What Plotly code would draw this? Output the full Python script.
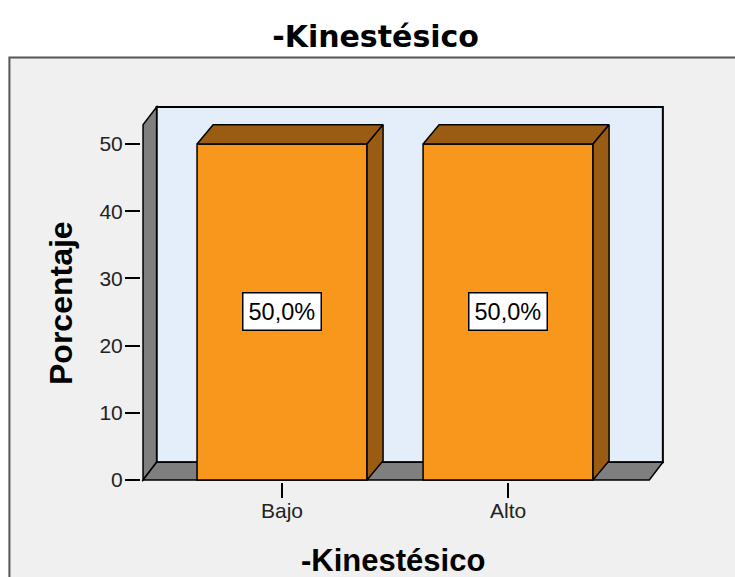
import plotly.graph_objects as go

# ---- data ----
categories = ["Bajo", "Alto"]
percentages = [50.0, 50.0]
y_ticks = [0, 10, 20, 30, 40, 50]
chart_title = "-Kinestésico"
x_title = "-Kinestésico"
y_title = "Porcentaje"

# ---- style / geometry (data units) ----
ORANGE = "#F7981D"
DARK = "#9A5C12"
WALL = "#7F7F7F"
BACK = "#E3EEFA"
FRAME = "#F0F0F0"

x_range = [-0.624, 1.690]
y_range = [-0.3, 55.8]
bar_w = 0.752
wdx, wdy = 0.06, 2.65      # wall depth
bdx, bdy = 0.071, 2.87     # bar depth
xl, xr_back = -0.615, 1.685
xl_back = xl + wdx
xr_front = xr_back - wdx
wall_top_back = 55.5
wall_top_front = wall_top_back - wdy

fig = go.Figure()

shapes = []
# outer frame (paper coordinates)
shapes.append(dict(type="rect", xref="paper", yref="paper", layer="below",
                   x0=-0.2516, x1=1.2, y0=-0.32, y1=1.126,
                   fillcolor=FRAME, line=dict(color="#555555", width=2)))
# back wall
shapes.append(dict(type="path", xref="x", yref="y", layer="below",
                   path=f"M{xl_back},{wdy} L{xr_back},{wdy} L{xr_back},{wall_top_back} L{xl_back},{wall_top_back} Z",
                   fillcolor=BACK, line=dict(color="black", width=2)))
# left side wall
shapes.append(dict(type="path", xref="x", yref="y", layer="below",
                   path=f"M{xl},0 L{xl_back},{wdy} L{xl_back},{wall_top_back} L{xl},{wall_top_front} Z",
                   fillcolor=WALL, line=dict(color="black", width=1.5)))
# floor
shapes.append(dict(type="path", xref="x", yref="y", layer="below",
                   path=f"M{xl},0 L{xr_front},0 L{xr_back},{wdy} L{xl_back},{wdy} Z",
                   fillcolor=WALL, line=dict(color="black", width=1.5)))

xpos = list(range(len(categories)))
fig.add_trace(go.Bar(x=xpos, y=percentages, width=bar_w,
                     marker=dict(color=ORANGE, line=dict(color="black", width=1.5)),
                     hoverinfo="skip", showlegend=False))

hw = bar_w / 2
for i, v in zip(xpos, percentages):
    # top face
    fig.add_trace(go.Scatter(
        x=[i - hw, i + hw, i + hw + bdx, i - hw + bdx, i - hw],
        y=[v, v, v + bdy, v + bdy, v],
        mode="lines", fill="toself", fillcolor=DARK,
        line=dict(color="black", width=1.5), hoverinfo="skip", showlegend=False))
    # side face
    fig.add_trace(go.Scatter(
        x=[i + hw, i + hw + bdx, i + hw + bdx, i + hw, i + hw],
        y=[0, bdy, v + bdy, v, 0],
        mode="lines", fill="toself", fillcolor=DARK,
        line=dict(color="black", width=1.5), hoverinfo="skip", showlegend=False))

annotations = []
for i, v in zip(xpos, percentages):
    annotations.append(dict(x=i, y=v / 2, xref="x", yref="y",
                            text=f"{v:.1f}%".replace(".", ","), showarrow=False,
                            font=dict(family="Arial, Liberation Sans", size=23.5, color="black"),
                            bgcolor="white", bordercolor="black", borderwidth=1.5, borderpad=5))

# axis titles
annotations.append(dict(text=x_title, xref="paper", yref="paper", x=0.4818, y=-0.2069,
                        xanchor="center", yanchor="middle", showarrow=False,
                        font=dict(family="Arial, Liberation Sans", size=31, color="black", weight="bold")))
annotations.append(dict(text=y_title, xref="paper", yref="paper", x=-0.152, y=0.4735,
                        xanchor="center", yanchor="middle", showarrow=False, textangle=-90,
                        font=dict(family="Arial, Liberation Sans", size=32, color="black", weight="bold")))

fig.update_layout(
    width=735, height=577,
    margin=dict(l=141, r=71, t=105, b=95),
    paper_bgcolor="white", plot_bgcolor=FRAME,
    shapes=shapes, annotations=annotations,
    title=dict(text=chart_title, x=0.511, xref="container", xanchor="center",
               y=1 - 36 / 577, yref="container", yanchor="middle",
               font=dict(family="DejaVu Sans", size=30, color="black", weight="bold")),
    xaxis=dict(range=x_range, tickvals=xpos, ticktext=categories,
               showgrid=False, zeroline=False, showline=False,
               ticks="outside", ticklen=15, tickwidth=1.5, tickcolor="black",
               ticklabelstandoff=-5,
               tickfont=dict(family="Arial, Liberation Sans", size=21, color="#222222")),
    yaxis=dict(range=y_range, tickvals=y_ticks,
               showgrid=False, zeroline=False, showline=False,
               ticks="outside", ticklen=15, tickwidth=1.5, tickcolor="black",
               ticklabelstandoff=-2,
               tickfont=dict(family="Arial, Liberation Sans", size=21, color="#222222")),
)

fig.write_html("out.html")
